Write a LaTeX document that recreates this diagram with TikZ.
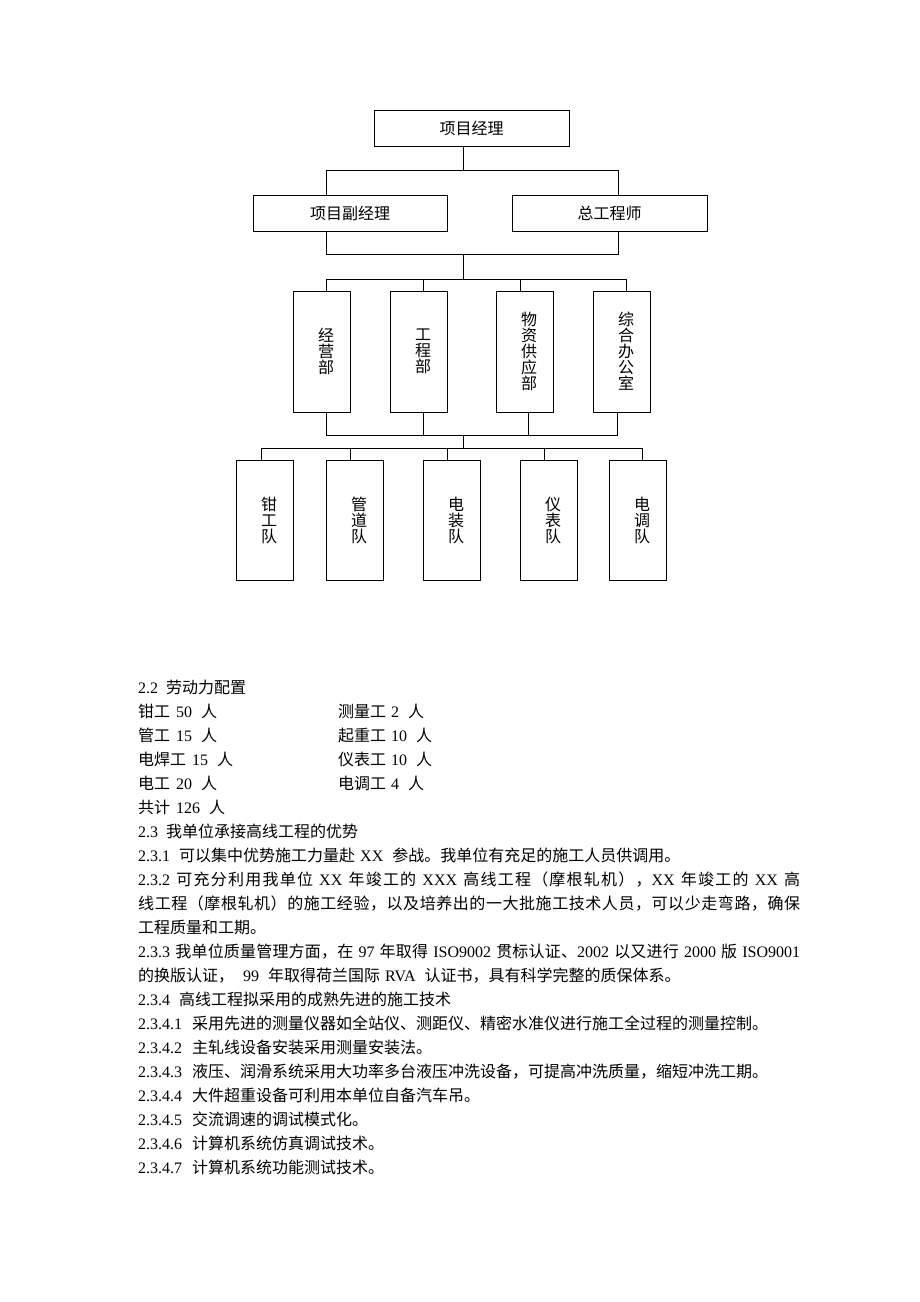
\documentclass[tikz,border=0pt]{standalone}
\usepackage{fontspec}
\setmainfont{Liberation Serif}
\newfontfamily\cjk{Noto Sans CJK SC}
\newcommand\E[1]{{\rmfamily #1}}
\makeatletter
\def\spreadcj#1{\spreadcj@#1\@nil}
\def\spreadcj@#1{\ifx#1\@nil\unskip\else#1\hskip0pt plus 1fil\relax\expandafter\spreadcj@\fi}
\makeatother
\newcommand\gapj{\hskip 5pt plus 1fil\relax}
\newcommand\gp[1]{\hspace{#1pt}}
\tikzset{
  box/.style={draw, line width=1pt, inner sep=0pt},
  hbox/.style={box, minimum height=36pt, font=\fontsize{16}{16}\selectfont\cjk},
  vbox/.style={box, minimum width=57pt},
  vtxt/.style={align=center, inner sep=0pt, font=\fontsize{16}{16}\selectfont\cjk},
  conn/.style={line width=1pt, line cap=rect},
  body/.style={anchor=base west, inner sep=0pt, font=\fontsize{16}{24}\selectfont\cjk}
}
\begin{document}
\begin{tikzpicture}[x=1pt, y=-1pt]
\fill[white] (0,0) rectangle (920,1302);
\useasboundingbox (0,0) rectangle (920,1302);

% top levels
\node[hbox, minimum width=195pt] (pm)  at (471.5,128) {项目经理};
\node[hbox, minimum width=194pt] (vpm) at (350,213) {项目副经理};
\node[hbox, minimum width=195pt] (ce)  at (609.5,213) {总工程师};

% departments
\node[vbox, minimum height=121pt] (d1) at (321.5,351.5) {};
\node[vbox, minimum height=121pt] (d2) at (418.5,351.5) {};
\node[vbox, minimum height=121pt] (d3) at (524.5,351.5) {};
\node[vbox, minimum height=121pt] (d4) at (621.5,351.5) {};
\node[vtxt] (d1t) at ([xshift=4.5pt]d1.center) {经\\营\\部};
\node[vtxt] (d2t) at ([xshift=4.5pt]d2.center) {工\\程\\部};
\node[vtxt] (d3t) at ([xshift=4.5pt]d3.center) {物\\资\\供\\应\\部};
\node[vtxt] (d4t) at ([xshift=4.5pt]d4.center) {综\\合\\办\\公\\室};

% teams
\node[vbox, minimum height=120pt] (t1) at (264.5,520) {};
\node[vbox, minimum height=120pt] (t2) at (354.5,520) {};
\node[vbox, minimum height=120pt] (t3) at (451.5,520) {};
\node[vbox, minimum height=120pt] (t4) at (548.5,520) {};
\node[vbox, minimum height=120pt] (t5) at (637.5,520) {};
\node[vtxt] (t1t) at ([xshift=4.5pt]t1.center) {钳\\工\\队};
\node[vtxt] (t2t) at ([xshift=4.5pt]t2.center) {管\\道\\队};
\node[vtxt] (t3t) at ([xshift=4.5pt]t3.center) {电\\装\\队};
\node[vtxt] (t4t) at ([xshift=4.5pt]t4.center) {仪\\表\\队};
\node[vtxt] (t5t) at ([xshift=4.5pt]t5.center) {电\\调\\队};

% connectors
\coordinate (a0) at (463,170); \coordinate (aL) at (326,170); \coordinate (aR) at (618,170);
\draw[conn] (pm.south -| a0) -- (a0);
\draw[conn] (vpm.north -| aL) -- (aL) -- (aR) -- (ce.north -| aR);
\coordinate (b0) at (463,254); \coordinate (bL) at (326,254); \coordinate (bR) at (618,254);
\draw[conn] (vpm.south -| bL) -- (bL) -- (bR) -- (ce.south -| bR);
\coordinate (c0) at (463,279); \coordinate (cL) at (326,279); \coordinate (cR) at (626,279);
\coordinate (c2) at (423,279); \coordinate (c3) at (520,279);
\draw[conn] (b0) -- (c0);
\draw[conn] (d1.north -| cL) -- (cL) -- (cR) -- (d4.north -| cR);
\draw[conn] (d2.north -| c2) -- (c2);
\draw[conn] (d3.north -| c3) -- (c3);
\coordinate (e0) at (463,435); \coordinate (eL) at (326,435); \coordinate (eR) at (617,435);
\coordinate (e2) at (423,435); \coordinate (e3) at (528,435);
\draw[conn] (d1.south -| eL) -- (eL) -- (eR) -- (d4.south -| eR);
\draw[conn] (d2.south -| e2) -- (e2);
\draw[conn] (d3.south -| e3) -- (e3);
\coordinate (f0) at (463,448); \coordinate (fL) at (261,448); \coordinate (fR) at (642,448);
\coordinate (f2) at (350,448); \coordinate (f3) at (447,448); \coordinate (f4) at (544,448);
\draw[conn] (e0) -- (f0);
\draw[conn] (t1.north -| fL) -- (fL) -- (fR) -- (t5.north -| fR);
\draw[conn] (t2.north -| f2) -- (f2);
\draw[conn] (t3.north -| f3) -- (f3);
\draw[conn] (t4.north -| f4) -- (f4);

% body text
\node[body] (l1) at (138,693.5) {\E{2.2}\gp{8}劳动力配置};
\node[body] (l2) at (138,717.5) {钳工\gp{6}\E{50}\gp{9}人};
\node[body] (l2b) at (338,717.5) {测量工\gp{5}\E{2}\gp{9}人};
\node[body] (l3) at (138,741.5) {管工\gp{6}\E{15}\gp{9}人};
\node[body] (l3b) at (338,741.5) {起重工\gp{5}\E{10}\gp{9}人};
\node[body] (l4) at (138,765.5) {电焊工\gp{6}\E{15}\gp{9}人};
\node[body] (l4b) at (338,765.5) {仪表工\gp{5}\E{10}\gp{9}人};
\node[body] (l5) at (138,789.5) {电工\gp{6}\E{20}\gp{9}人};
\node[body] (l5b) at (338,789.5) {电调工\gp{5}\E{4}\gp{9}人};
\node[body] (l6) at (138,813.5) {共计\gp{6}\E{126}\gp{9}人};
\node[body] (l7) at (138,837.5) {\E{2.3}\gp{8}我单位承接高线工程的优势};
\node[body] (l8) at (138,861.5) {\E{2.3.1}\gp{9}可以集中优势施工力量赴\gp{5}\E{XX}\gp{9}参战。我单位有充足的施工人员供调用。};
\node[body] (l9) at (138,885.5) {\hbox to 662pt{\E{2.3.2}\gapj\spreadcj{可充分利用我单位}\gapj\E{XX}\gapj\spreadcj{年竣工的}\gapj\E{XXX}\gapj\spreadcj{高线工程（摩根轧机），}\E{XX}\gapj\spreadcj{年竣工的}\gapj\E{XX}\gapj 高}};
\node[body] (l10) at (138,909.5) {\hbox to 662pt{\spreadcj{线工程（摩根轧机）的施工经验，以及培养出的一大批施工技术人员，可以少走弯路，确保}}};
\node[body] (l11) at (138,933.5) {工程质量和工期。};
\node[body] (l12) at (138,957.5) {\hbox to 662pt{\E{2.3.3}\gapj\spreadcj{我单位质量管理方面，在}\gapj\E{97}\gapj\spreadcj{年取得}\gapj\E{ISO9002}\gapj\spreadcj{贯标认证、}\E{2002}\gapj\spreadcj{以又进行}\gapj\E{2000}\gapj 版\gapj\E{ISO9001}}};
\node[body] (l13) at (138,981.5) {的换版认证，\gp{9}\E{99}\gp{9}年取得荷兰国际\gp{5}\E{RVA}\gp{9}认证书，具有科学完整的质保体系。};
\node[body] (l14) at (138,1005.5) {\E{2.3.4}\gp{9}高线工程拟采用的成熟先进的施工技术};
\node[body] (l15) at (138,1029.5) {\E{2.3.4.1}\gp{10}采用先进的测量仪器如全站仪、测距仪、精密水准仪进行施工全过程的测量控制。};
\node[body] (l16) at (138,1053.5) {\E{2.3.4.2}\gp{10}主轧线设备安装采用测量安装法。};
\node[body] (l17) at (138,1077.5) {\E{2.3.4.3}\gp{10}液压、润滑系统采用大功率多台液压冲洗设备，可提高冲洗质量，缩短冲洗工期。};
\node[body] (l18) at (138,1101.5) {\E{2.3.4.4}\gp{10}大件超重设备可利用本单位自备汽车吊。};
\node[body] (l19) at (138,1125.5) {\E{2.3.4.5}\gp{10}交流调速的调试模式化。};
\node[body] (l20) at (138,1149.5) {\E{2.3.4.6}\gp{10}计算机系统仿真调试技术。};
\node[body] (l21) at (138,1173.5) {\E{2.3.4.7}\gp{10}计算机系统功能测试技术。};
\end{tikzpicture}
\end{document}
